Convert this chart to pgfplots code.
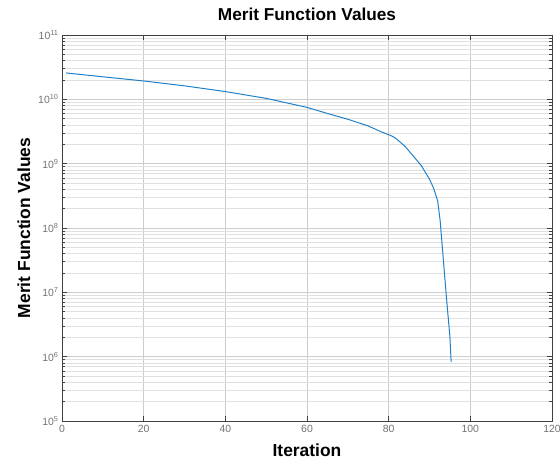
\documentclass[border=0pt]{standalone}
\usepackage{pgfplots}
\pgfplotsset{compat=1.18}
\usepackage{fontspec}
\setmainfont{Liberation Sans}
\usetikzlibrary{calc}
\definecolor{mblue}{rgb}{0.12,0.5,0.78}
\begin{document}
\begin{tikzpicture}
\begin{axis}[
  name=ax,
  scale only axis, width=490bp, height=386bp,
  xmin=0, xmax=120, ymin=1e5, ymax=1e11, ymode=log,
  xtick={0,20,40,60,80,100,120},
  ytick={1e5,1e6,1e7,1e8,1e9,1e10,1e11},
  yticklabels={10\textsuperscript{5},10\textsuperscript{6},10\textsuperscript{7},10\textsuperscript{8},10\textsuperscript{9},10\textsuperscript{10},10\textsuperscript{11}},
  /pgf/number format/assume math mode=true,
  grid=both,
  major grid style={draw=black!20, line width=0.5pt},
  minor grid style={draw=black!12, line width=0.45pt},
  tick align=inside,
  major tick length=5bp, minor tick length=3bp,
  axis line style={draw=black!75, line width=0.6pt},
  every tick/.style={draw=black!75, line width=0.5pt},
  tick label style={font=\fontsize{10.5}{11}\selectfont, text=black!55},
  xticklabel style={yshift=-1bp},
  title={Merit Function Values},
  title style={font=\bfseries\fontsize{17.3}{19}\selectfont, at={(0.5,1.021)}, anchor=base},
  xlabel={Iteration},
  ylabel={Merit Function Values},
  xlabel style={font=\bfseries\fontsize{17.5}{19}\selectfont, at={(0.5,-0.093)}, anchor=base},
  ylabel style={font=\bfseries\fontsize{17.5}{19}\selectfont, at={(-0.065,0.5)}, anchor=base},
]
\addplot[mblue, line width=1pt, no marks] coordinates {
(1,2.57e10) (10,2.24e10) (20,1.93e10) (30,1.62e10) (40,1.32e10) (50,1.035e10)
(60,7.5e9) (65,6.03e9) (70,4.9e9) (75,3.85e9) (78,3.16e9) (80,2.82e9) (81,2.65e9)
(82,2.4e9) (84,1.86e9) (86,1.32e9) (88,9.3e8) (90,5.75e8) (91,4.17e8) (92,2.63e8)
(92.6,1.32e8) (93.4,3.16e7) (94.2,7.6e6) (95,2.04e6) (95.3,8.3e5)
};
\end{axis}
\pgfresetboundingbox
\path ($(ax.south west)+(-62bp,-40bp)$) rectangle ($(ax.north east)+(8bp,35bp)$);
\end{tikzpicture}
\end{document}
